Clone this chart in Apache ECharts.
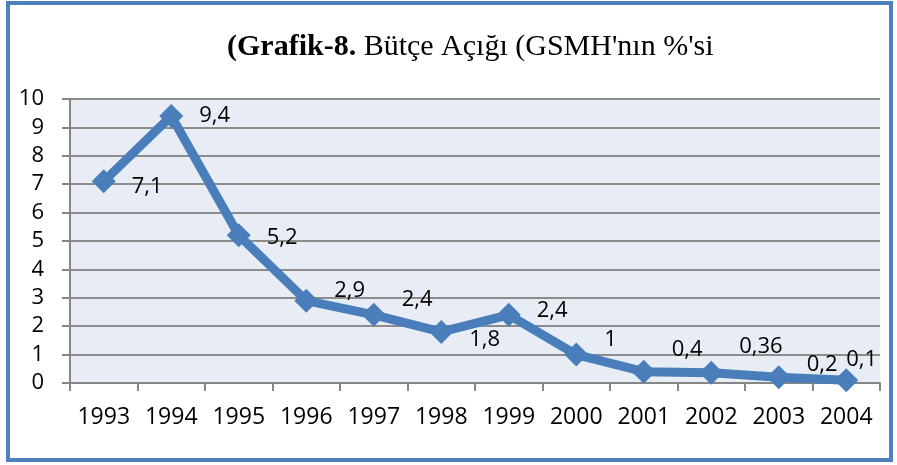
<!DOCTYPE html>
<html>
<head>
<meta charset="utf-8">
<script src="https://cdn.jsdelivr.net/npm/echarts@6/dist/echarts.min.js"></script>
<style>
  html, body { margin: 0; padding: 0; background: #fff; }
  #chart { width: 897px; height: 465px; }
</style>
</head>
<body>
<div id="chart"></div>
<script>
var years = ['1993', '1994', '1995', '1996', '1997', '1998', '1999', '2000', '2001', '2002', '2003', '2004'];
var deficit = [7.1, 9.4, 5.2, 2.9, 2.4, 1.8, 2.4, 1, 0.4, 0.36, 0.2, 0.1];
var yTicks = [0, 1, 2, 3, 4, 5, 6, 7, 8, 9, 10];
// label nudges [dx, dy] so labels sit like in the original
var labelOffsets = [[0, 5], [0, 0], [0, 2], [0, -10], [0, -15], [0, 8], [0, -4], [0, -15], [0, -22], [0, -26], [0, -13], [-28, -20]];

var seriesData = [];
for (var i = 0; i < deficit.length; i++) {
  seriesData.push({
    value: deficit[i],
    label: { offset: labelOffsets[i] }
  });
}

var chart = echarts.init(document.getElementById('chart'));
var option = {
  backgroundColor: '#ffffff',
  animation: false,
  graphic: [{
    type: 'rect',
    shape: { x: 8, y: 3, width: 883, height: 457 },
    style: { fill: 'none', stroke: '#4f81bd', lineWidth: 4 },
    silent: true
  }],
  title: {
    text: '{b|(Grafik-8.} Bütçe Açığı (GSMH\'nın %\'si',
    left: 222,
    top: 27,
    textStyle: {
      fontFamily: 'Liberation Serif',
      fontSize: 30,
      fontWeight: 'normal',
      color: '#000',
      rich: {
        b: { fontFamily: 'Liberation Serif', fontSize: 30, fontWeight: 'bold', color: '#000' }
      }
    }
  },
  grid: {
    left: 70,
    right: 17,
    top: 99,
    bottom: 82,
    show: true,
    backgroundColor: '#e8edf5',
    borderWidth: 0
  },
  xAxis: {
    type: 'category',
    data: years,
    boundaryGap: true,
    axisLine: { lineStyle: { color: '#868686', width: 2 } },
    axisTick: { show: true, length: 8, interval: 0, lineStyle: { color: '#868686', width: 2 } },
    axisLabel: { fontFamily: 'Open Sans', fontSize: 23, color: '#000', margin: 23, interval: 0 }
  },
  yAxis: {
    type: 'value',
    min: yTicks[0],
    max: yTicks[yTicks.length - 1],
    interval: 1,
    axisLine: { show: true, lineStyle: { color: '#868686', width: 2 } },
    axisTick: { show: true, length: 8, lineStyle: { color: '#868686', width: 2 } },
    axisLabel: { fontFamily: 'Open Sans', fontSize: 22, color: '#000', margin: 26 },
    splitLine: { lineStyle: { color: '#8c8c8c', width: 2 } }
  },
  series: [{
    name: 'Bütçe Açığı',
    type: 'line',
    data: seriesData,
    symbol: 'diamond',
    symbolSize: 24,
    lineStyle: { color: '#4a7ebb', width: 9 },
    itemStyle: { color: '#4a7ebb' },
    label: {
      show: true,
      position: 'right',
      distance: 16,
      fontFamily: 'Open Sans',
      fontSize: 22,
      color: '#000',
      formatter: function (p) { return String(p.value).replace('.', ','); }
    }
  }]
};
chart.setOption(option);
</script>
</body>
</html>
